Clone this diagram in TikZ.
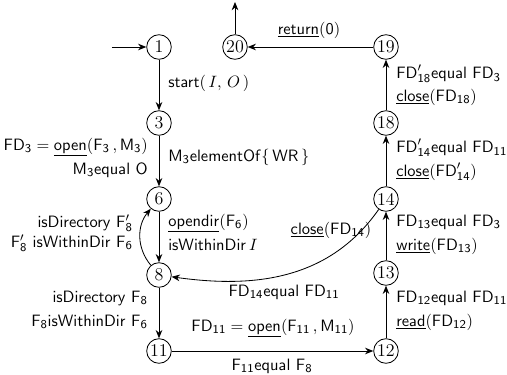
\documentclass[tikz,border=0pt]{standalone}
\usetikzlibrary{arrows.meta}
\newcommand{\s}[1]{\mathsf{#1}}
\begin{document}
\begin{tikzpicture}[x=0.6667pt,y=-0.6667pt,
  every node/.style={font=\fontsize{11}{13}\selectfont},
  state/.style={circle,draw,line width=0.55pt,inner sep=0.5pt,minimum size=16.4pt,font=\fontsize{12}{14}\selectfont\rmfamily},
  conn/.style={-{Stealth[length=5.5pt,width=4.4pt]},line width=0.55pt},
  lab/.style={inner sep=0pt,font=\fontsize{11}{13}\selectfont\sffamily}]
\useasboundingbox (0,0) rectangle (507,375);
\node[state] (n1) at (159,47) {1};
\node[state] (n20) at (235,47) {20};
\node[state] (n19) at (386,47) {19};
\node[state] (n3) at (159,123) {3};
\node[state] (n18) at (386,123) {18};
\node[state] (n6) at (159,199) {6};
\node[state] (n14) at (386,199) {14};
\node[state] (n8) at (159,275) {8};
\node[state] (n13) at (386,273) {13};
\node[state] (n11) at (159,351) {11};
\node[state] (n12) at (386,351) {12};
\coordinate (in) at (112,47);
\coordinate (out) at (235,2);
\draw[conn] (in) -- (n1);
\draw[conn] (n20) -- (out);
\draw[conn] (n1) -- (n3);
\draw[conn] (n3) -- (n6);
\draw[conn] (n6) -- (n8);
\draw[conn] (n8) to[bend left=40] (n6);
\draw[conn] (n8) -- (n11);
\draw[conn] (n11) -- (n12);
\draw[conn] (n12) -- (n13);
\draw[conn] (n13) -- (n14);
\draw[conn] (n14) to[out=235,in=-8] (n8);
\draw[conn] (n14) -- (n18);
\draw[conn] (n18) -- (n19);
\draw[conn] (n19) -- (n20);
\node[lab,anchor=west] (l1) at (168,83) {$\s{start}(\,I,\,O\,)$};
\node[lab,anchor=east] (l2) at (148,147) {$\s{FD}_{\s 3} = \underline{\s{open}}(\s{F}_{\s 3}\,, \s{M}_{\s 3})$};
\node[lab,anchor=east] (l3) at (148,170) {$\s{M}_{\s 3}\s{equal}\ \s{O}$};
\node[lab,anchor=west] (l4) at (168,157) {$\s{M}_{\s 3}\s{elementOf}\{\,\s{WR}\,\}$};
\node[lab,anchor=east] (l5) at (133,223) {$\s{isDirectory}\ \s{F}'_{\s 8}$};
\node[lab,anchor=east] (l6) at (133,243) {$\s{F}'_{\s 8}\ \s{isWithinDir}\ \s{F}_{\s 6}$};
\node[lab,anchor=west] (l7) at (168,223) {$\underline{\s{opendir}}(\s{F}_{\s 6})$};
\node[lab,anchor=west] (l8) at (168,245) {$\s{isWithinDir}\,I$};
\node[lab,anchor=east] (l9) at (148,298) {$\s{isDirectory}\ \s{F}_{\s 8}$};
\node[lab,anchor=east] (l10) at (148,322) {$\s{F}_{\s 8}\s{isWithinDir}\ \s{F}_{\s 6}$};
\node[lab] (l11) at (273,328) {$\s{FD}_{\s{11}} = \underline{\s{open}}(\s{F}_{\s{11}}\,, \s{M}_{\s{11}})$};
\node[lab] (l12) at (272,366) {$\s{F}_{\s{11}}\s{equal}\ \s{F}_{\s 8}$};
\node[lab,anchor=west] (l13) at (396,298) {$\s{FD}_{\s{12}}\s{equal}\ \s{FD}_{\s{11}}$};
\node[lab,anchor=west] (l14) at (396,322) {$\underline{\s{read}}(\s{FD}_{\s{12}})$};
\node[lab,anchor=west] (l15) at (396,222) {$\s{FD}_{\s{13}}\s{equal}\ \s{FD}_{\s 3}$};
\node[lab,anchor=west] (l16) at (396,246) {$\underline{\s{write}}(\s{FD}_{\s{13}})$};
\node[lab] (l17) at (331,230) {$\underline{\s{close}}(\s{FD}_{\s{14}})$};
\node[lab] (l18) at (284,292) {$\s{FD}_{\s{14}}\s{equal}\ \s{FD}_{\s{11}}$};
\node[lab,anchor=west] (l19) at (396,148) {$\s{FD}'_{\s{14}}\s{equal}\ \s{FD}_{\s{11}}$};
\node[lab,anchor=west] (l20) at (396,172) {$\underline{\s{close}}(\s{FD}'_{\s{14}})$};
\node[lab,anchor=west] (l21) at (396,74) {$\s{FD}'_{\s{18}}\s{equal}\ \s{FD}_{\s 3}$};
\node[lab,anchor=west] (l22) at (396,97) {$\underline{\s{close}}(\s{FD}_{\s{18}})$};
\node[lab] (l23) at (309,30) {$\underline{\s{return}}(\s 0)$};
\end{tikzpicture}
\end{document}
